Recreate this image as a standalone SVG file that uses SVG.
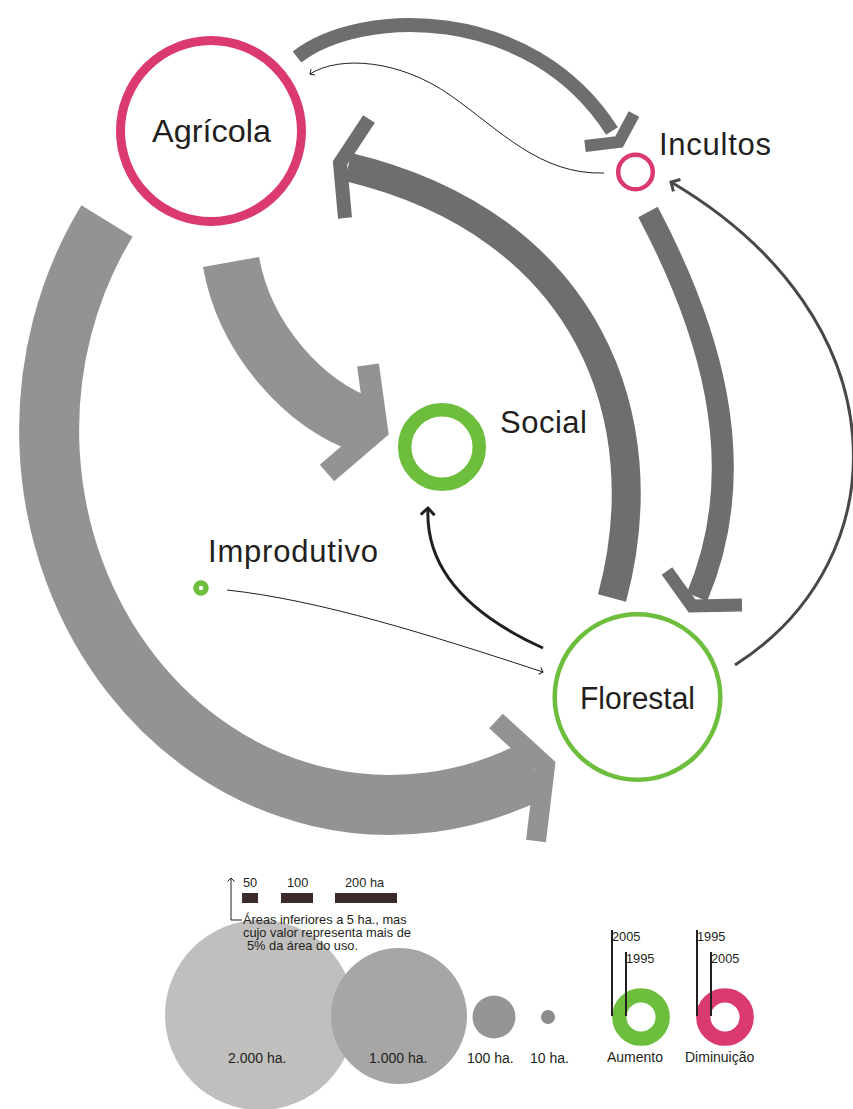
<svg xmlns="http://www.w3.org/2000/svg" width="853" height="1109" viewBox="0 0 853 1109">
  <defs>
    <style>
      .label{font-family:"Liberation Sans",Arial,sans-serif;fill:#231f20;font-size:31px}
      .small{font-family:"Liberation Sans",Arial,sans-serif;fill:#231f20;font-size:12.8px}
      .leg{font-family:"Liberation Sans",Arial,sans-serif;fill:#231f20;font-size:14px}
      .dark{fill:none;stroke:#6f6e6c;stroke-linejoin:miter;stroke-miterlimit:10}
      .light{fill:none;stroke:#939393;stroke-linejoin:miter;stroke-miterlimit:10}
      .thin{fill:none;stroke:#231f20}
      .pink{fill:none;stroke:#db3a70}
      .green{fill:none;stroke:#6cbe3c}
      .tick{stroke:#231f20;stroke-width:2}
    </style>
    <marker id="tip-fine" viewBox="-5 -5 10 10" markerWidth="10" markerHeight="10" orient="auto" markerUnits="strokeWidth" overflow="visible">
      <path d="M-3.5,-3.5 L0,0 L-3.5,3.5" fill="none" stroke="#231f20" stroke-width="1"/>
    </marker>
    <marker id="tip-bold" viewBox="-5 -5 10 10" markerWidth="10" markerHeight="10" orient="auto" markerUnits="strokeWidth" overflow="visible">
      <path d="M-2.3,-2.3 L0,0 L-2.3,2.3" fill="none" stroke="#231f20" stroke-width="1"/>
    </marker>
    <marker id="tip-grey" viewBox="-5 -5 10 10" markerWidth="10" markerHeight="10" orient="auto" markerUnits="strokeWidth" overflow="visible">
      <path d="M-2.3,-2.3 L0,0 L-2.3,2.3" fill="none" stroke="#4a4846" stroke-width="1"/>
    </marker>
  </defs>

  <rect width="853" height="1109" fill="#ffffff"/>

  <!-- flows between land uses -->
  <g id="connectors">
    <!-- Agrícola -> Florestal (large, light) -->
    <path class="light" stroke-width="60" d="M107,221 A341,375 0 0 0 534,770"/>
    <polyline class="light" stroke-width="20" points="496,721 545,766 536,841"/>
    <!-- Agrícola -> Social -->
    <path class="light" stroke-width="57" d="M231,262 C245,340 305,405 366,426"/>
    <polyline class="light" stroke-width="22" points="368,365 377,430 327,473"/>
    <!-- Florestal -> Agrícola -->
    <path class="dark" stroke-width="29" d="M612,598 C660,420 590,225 348,167"/>
    <polyline class="dark" stroke-width="14" points="369,119 340,163 345,218"/>
    <!-- Agrícola -> Incultos -->
    <path class="dark" stroke-width="14" d="M297,57 C360,8 530,3 612,131"/>
    <polyline class="dark" stroke-width="12" points="585,146 619,142 634,114"/>
    <!-- Incultos -> Florestal -->
    <path class="dark" stroke-width="22" d="M648,212 C705,320 755,460 697,597"/>
    <polyline class="dark" stroke-width="13" points="667,571 692,606 742,605"/>
    <!-- Florestal -> Incultos -->
    <path fill="none" stroke="#4a4846" stroke-width="3" marker-end="url(#tip-grey)" d="M735,665 C900,560 905,320 671,182"/>
    <!-- Florestal -> Social -->
    <path class="thin" stroke-width="3" marker-end="url(#tip-bold)" d="M543,648 C470,615 425,570 428,508"/>
    <!-- Incultos -> Agrícola -->
    <path class="thin" stroke-width="1" marker-end="url(#tip-fine)" d="M604,173 C540,175 500,130 450,95 C400,60 340,55 310,74"/>
    <!-- Improdutivo -> Florestal -->
    <path class="thin" stroke-width="1" marker-end="url(#tip-fine)" d="M227,590 C320,600 430,635 543,672"/>
  </g>

  <g id="agricola">
    <circle class="pink" cx="211" cy="131" r="90.5" stroke-width="9"/>
    <text class="label" x="152" y="142" textLength="119" lengthAdjust="spacingAndGlyphs">Agrícola</text>
  </g>

  <g id="incultos">
    <circle class="pink" cx="635.5" cy="172" r="17.3" stroke-width="4.5"/>
    <text class="label" x="659" y="155" font-size="30" textLength="112" lengthAdjust="spacing">Incultos</text>
  </g>

  <g id="social">
    <circle class="green" cx="442" cy="447" r="37.3" stroke-width="13.5"/>
    <text class="label" x="500" y="433" textLength="87" lengthAdjust="spacing">Social</text>
  </g>

  <g id="improdutivo">
    <circle class="green" cx="201" cy="588" r="5" stroke-width="5.5"/>
    <text class="label" x="208" y="562" textLength="170" lengthAdjust="spacing">Improdutivo</text>
  </g>

  <g id="florestal">
    <circle class="green" cx="637.5" cy="697" r="82.8" stroke-width="4.5"/>
    <text class="label" x="580" y="709" textLength="115" lengthAdjust="spacingAndGlyphs">Florestal</text>
  </g>

  <!-- key: flow widths -->
  <g id="legend-flows">
    <path class="thin" stroke-width="1" marker-end="url(#tip-fine)" d="M242,920 H231 V878"/>
    <text class="small" x="243" y="887">50</text>
    <text class="small" x="287" y="887">100</text>
    <text class="small" x="345" y="887">200 ha</text>
    <rect x="242" y="893" width="16" height="10" fill="#3d2a2a"/>
    <rect x="281" y="893" width="32" height="10" fill="#3d2a2a"/>
    <rect x="335" y="893" width="62" height="10" fill="#3d2a2a"/>
  </g>

  <!-- key: circle areas -->
  <g id="legend-areas">
    <circle cx="260" cy="1015" r="95" fill="#c0bfbd"/>
    <circle cx="399" cy="1016" r="68" fill="#a7a6a5"/>
    <circle cx="494" cy="1017" r="21.5" fill="#959595"/>
    <circle cx="548" cy="1017" r="7" fill="#8a8a8a"/>
    <text class="small" x="243" y="924">Áreas inferiores a 5 ha., mas</text>
    <text class="small" x="243" y="937">cujo valor representa mais de</text>
    <text class="small" x="247" y="950">5% da área do uso.</text>
    <text class="leg" x="228" y="1063">2.000 ha.</text>
    <text class="leg" x="369" y="1063">1.000 ha.</text>
    <text class="leg" x="467" y="1063">100 ha.</text>
    <text class="leg" x="530" y="1063">10 ha.</text>
  </g>

  <!-- key: change between years -->
  <g id="legend-change">
    <circle class="green" cx="641" cy="1017" r="21.7" stroke-width="14.3"/>
    <circle class="pink" cx="725" cy="1017" r="21.7" stroke-width="14.3"/>
    <line class="tick" x1="612" y1="930" x2="612" y2="1016"/>
    <line class="tick" x1="626" y1="952" x2="626" y2="1016"/>
    <line class="tick" x1="697" y1="930" x2="697" y2="1016"/>
    <line class="tick" x1="711" y1="952" x2="711" y2="1016"/>
    <text class="small" x="612" y="941">2005</text>
    <text class="small" x="626" y="963">1995</text>
    <text class="small" x="697" y="941">1995</text>
    <text class="small" x="711" y="963">2005</text>
    <text class="leg" x="607" y="1062">Aumento</text>
    <text class="leg" x="685" y="1062">Diminuição</text>
  </g>
</svg>
